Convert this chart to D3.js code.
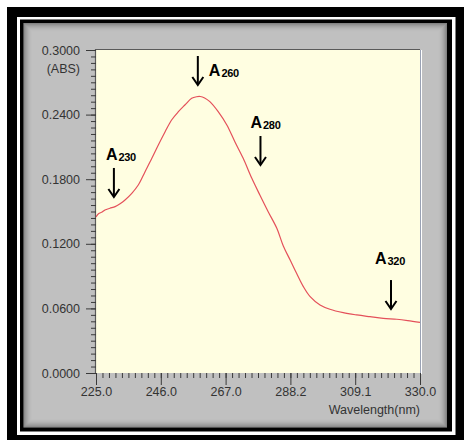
<!DOCTYPE html>
<html>
<head>
<meta charset="utf-8">
<script src="https://d3js.org/d3.v7.min.js"></script>
<style>
  html, body { margin: 0; padding: 0; background: #fff; }
  svg { display: block; font-family: "Liberation Sans", Arial, sans-serif; }
</style>
</head>
<body>
<svg id="chart" width="464" height="440"></svg>
<script>
// spectrum (nm, ABS)
const wavelength = [225.0, 225.8, 227.0, 227.9, 229.5, 231.2, 232.8, 234.4, 236.6, 238.7,
  240.9, 243.1, 245.2, 247.4, 249.5, 251.7, 253.8, 256.0, 257.6, 258.8,
  260.2, 261.9, 264.6, 267.4, 270.0, 272.7, 275.5, 278.1, 280.8, 283.6,
  285.7, 288.0, 290.0, 292.2, 294.4, 297.6, 300.8, 305.1, 309.5, 313.8,
  318.1, 322.5, 326.0, 330.0];
const absorbance = [0.145, 0.148, 0.1495, 0.1514, 0.153, 0.1545, 0.1572, 0.1607, 0.1669, 0.1746,
  0.187, 0.1994, 0.2118, 0.2241, 0.235, 0.2427, 0.2489, 0.2551, 0.2566, 0.2568,
  0.2555, 0.252, 0.2427, 0.2303, 0.2148, 0.1994, 0.1808, 0.1653, 0.1498, 0.1344,
  0.118, 0.1045, 0.0926, 0.0802, 0.0709, 0.0632, 0.0592, 0.056, 0.0539, 0.0523,
  0.0508, 0.0499, 0.0487, 0.047];

const xTickValues = [225, 246, 267, 288, 309, 330];
const xTickLabels = ["225.0", "246.0", "267.0", "288.2", "309.1", "330.0"];
const yTickValues = [0, 0.06, 0.12, 0.18, 0.24, 0.30];

// annotation arrows: label subscript, wavelength, ABS at arrow tip
const markLabels = ["230", "260", "280", "320"];
const markNm = [230.8, 258.0, 278.3, 320.6];
const markTip = [0.1635, 0.2675, 0.1932, 0.0594];

const svg = d3.select('#chart');

// --- frame ---
svg.append('rect').attr('x', 7).attr('y', 7).attr('width', 457).attr('height', 433).attr('fill', '#000');
svg.append('rect').attr('x', 17).attr('y', 17).attr('width', 438.5).attr('height', 418).attr('fill', '#fff');
svg.append('rect').attr('x', 20).attr('y', 19.5).attr('width', 432).attr('height', 412).attr('fill', '#000');
svg.append('rect').attr('x', 23.5).attr('y', 23).attr('width', 423.5).attr('height', 404.5).attr('fill', '#c0c0c0');
// inner shadow of the grey panel
for (let i = 0; i < 9; i++) {
  let a = 0.32 * Math.pow(1 - i / 9, 2);
  svg.append('rect')
    .attr('x', 24 + i).attr('y', 23.5 + i)
    .attr('width', 422.5 - 2 * i).attr('height', 403.5 - 2 * i)
    .attr('fill', 'none')
    .attr('stroke', `rgba(0,0,0,${a})`);
}

let pLeft = 96, pRight = 420, pTop = 50, pBottom = 373;

let x = d3.scaleLinear().domain([225, 330]).range([pLeft, pRight]);
let y = d3.scaleLinear().domain([0, 0.3]).range([pBottom, pTop]);

// plot area
svg.append('rect')
  .attr('x', pLeft).attr('y', pTop)
  .attr('width', pRight - pLeft).attr('height', pBottom - pTop)
  .attr('fill', '#fffee1');
svg.append('path').attr('d', `M${pLeft - 0.5},${pBottom}V${pTop - 0.5}H${pRight}`)
  .attr('fill', 'none').attr('stroke', '#5a5a5a').attr('stroke-width', 1.2);
svg.append('path').attr('d', `M${pRight + 0.5},${pTop}V${pBottom + 1}`)
  .attr('stroke', '#9aa2b4').attr('stroke-width', 1);
svg.append('path').attr('d', `M${pRight + 1.5},${pTop}V${pBottom + 1}`)
  .attr('stroke', '#ffffff').attr('stroke-width', 1);

// --- axes ---
let tickColor = '#3a3a3a';

let yMinor = svg.append('g')
  .attr('transform', `translate(${pLeft},0)`)
  .call(d3.axisLeft(y).tickValues(d3.range(0, 0.3001, 0.006)).tickSize(5).tickFormat(''));
let yMajor = svg.append('g')
  .attr('transform', `translate(${pLeft},0)`)
  .call(d3.axisLeft(y).tickValues(yTickValues).tickSize(10).tickPadding(6).tickFormat(d3.format('.4f')));

let xMinor = svg.append('g')
  .attr('transform', `translate(0,${pBottom})`)
  .call(d3.axisBottom(x).tickValues(d3.range(225, 330.01, 2.1)).tickSize(5).tickFormat(''));
let xMajor = svg.append('g')
  .attr('transform', `translate(0,${pBottom})`)
  .call(d3.axisBottom(x).tickValues(xTickValues).tickSize(12).tickPadding(2)
    .tickFormat((d, i) => xTickLabels[i]));

[yMinor, yMajor, xMinor, xMajor].forEach(g => {
  g.select('.domain').remove();
  g.selectAll('line').attr('stroke', tickColor);
  g.selectAll('text')
    .attr('fill', '#333')
    .style('font-size', '12.5px')
    .style('font-family', '"Liberation Sans", Arial, sans-serif');
});

svg.append('text')
  .attr('x', 80).attr('y', 73)
  .attr('text-anchor', 'end')
  .attr('fill', '#333')
  .style('font-size', '12.5px')
  .text('(ABS)');

svg.append('text')
  .attr('x', pRight).attr('y', 414)
  .attr('text-anchor', 'end')
  .attr('fill', '#333')
  .style('font-size', '12.5px')
  .text('Wavelength(nm)');

// --- spectrum ---
svg.append('clipPath').attr('id', 'plotClip')
  .append('rect').attr('x', pLeft).attr('y', pTop).attr('width', pRight - pLeft).attr('height', pBottom - pTop);

let line = d3.line()
  .x((d, i) => x(wavelength[i]))
  .y(d => y(d))
  .curve(d3.curveCatmullRom);

svg.append('path')
  .datum(absorbance)
  .attr('clip-path', 'url(#plotClip)')
  .attr('d', line)
  .attr('fill', 'none')
  .attr('stroke', '#e4505a')
  .attr('stroke-width', 1.2);

// --- arrows ---
let arrowLen = 29;
// label offsets relative to the arrow (dx, dy from arrow top)
let labelPos = [[-8, -8], [11, 20], [-10, -8], [-16, -16]];

markLabels.forEach((lab, i) => {
  let ax = x(markNm[i]);
  let tip = y(markTip[i]);
  let g = svg.append('g');
  g.append('line')
    .attr('x1', ax).attr('x2', ax)
    .attr('y1', tip - arrowLen).attr('y2', tip - 1)
    .attr('stroke', '#000').attr('stroke-width', 2);
  g.append('path')
    .attr('d', `M${ax - 5.5},${tip - 8}L${ax},${tip}L${ax + 5.5},${tip - 8}`)
    .attr('fill', 'none').attr('stroke', '#000').attr('stroke-width', 2);
  let t = g.append('text')
    .attr('x', ax + labelPos[i][0])
    .attr('y', tip - arrowLen + labelPos[i][1])
    .attr('fill', '#000')
    .style('font-weight', 'bold');
  t.append('tspan').style('font-size', '16px').text('A');
  t.append('tspan').style('font-size', '11px').attr('dx', 1).attr('dy', 1)
    .style('letter-spacing', '-0.3px').text(lab);
});
</script>
</body>
</html>
